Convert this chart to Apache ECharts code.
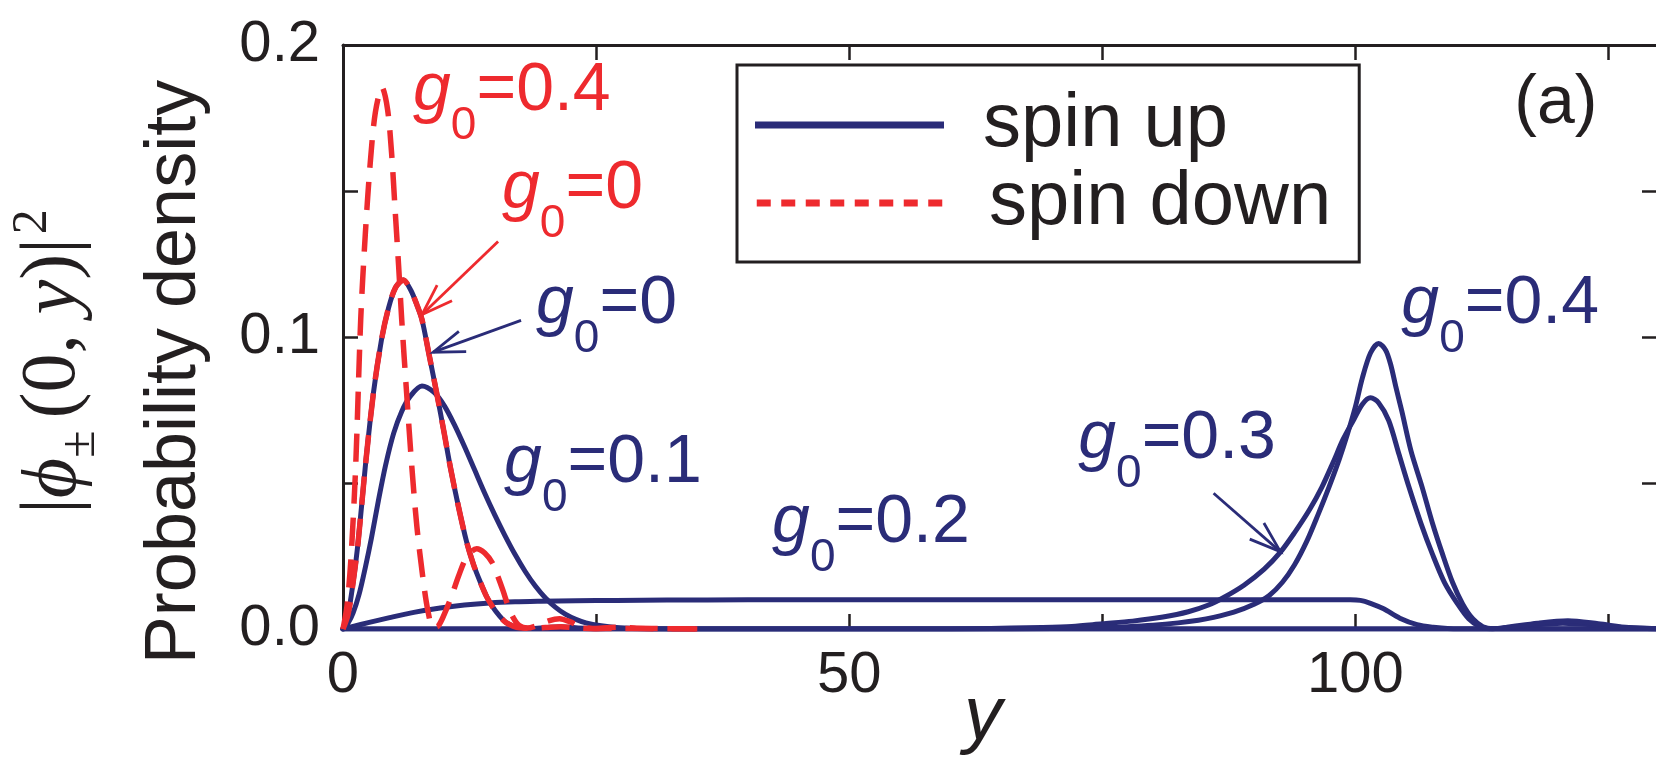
<!DOCTYPE html>
<html>
<head>
<meta charset="utf-8">
<script src="https://cdn.jsdelivr.net/npm/echarts/dist/echarts.min.js"></script>
<style>
html,body{margin:0;padding:0;background:#fff;}
#chart{width:1656px;height:764px;}
</style>
</head>
<body>
<div id="chart"></div>
<script>
// ---------------- data ----------------
const xTickLabels = [0, 50, 100];
const yTickLabels = ['0.0', '0.1', '0.2'];
const legendNames = ['spin up', 'spin down'];

// g0 = 0 : spin up and spin down coincide
const densityG0 = [[0,0],[0.5,0.005],[1.0,0.016],[1.5,0.030],[2.2,0.0555],[3.0,0.0807],[3.8,0.099],[4.5,0.110],[5.2,0.117],[5.96,0.1195],[6.7,0.116],[7.3,0.111],[7.8,0.106],[8.5,0.094],[9.26,0.0807],[10.0,0.067],[10.6,0.0555],[11.4,0.042],[12.2,0.030],[12.9,0.022],[13.5,0.0166],[14.2,0.011],[14.8,0.0075],[15.5,0.0043],[16.1,0.0022],[16.8,0.0010],[17.5,0.0004],[18.5,0.0002],[20,0.0005],[21.5,0.0008],[23,0.0004],[25,0.0001],[27,0.0002],[30,0.0001],[35,0]];
const upBaselineEnd = [[130,0]];

// spin up, g0 = 0.1
const upG01 = [[0,0],[0.5,0.002],[1.0,0.0055],[1.6,0.012],[2.2,0.021],[2.8,0.031],[3.5,0.044],[4.2,0.056],[5.0,0.067],[5.8,0.0745],[6.6,0.0795],[7.8,0.0832],[9.0,0.081],[10.0,0.0765],[11.0,0.070],[12.0,0.0625],[13.0,0.0545],[14.0,0.0465],[15.0,0.039],[16.0,0.032],[17.0,0.0255],[18.0,0.0197],[19.0,0.0147],[20.0,0.0106],[21.0,0.0074],[22.0,0.0050],[23.0,0.0033],[24.0,0.0021],[25.5,0.0011],[27,0.0005],[29,0.0002],[32,0],[130,0]];

// spin up, g0 = 0.2
const upG02 = [[0,0],[1,0.0009],[2.5,0.0022],[4.6,0.0039],[7,0.0057],[9.6,0.0072],[12,0.0082],[14.5,0.0089],[17,0.0093],[19.5,0.0095],[23,0.0097],[27,0.0098],[32,0.0099],[40,0.0100],[60,0.0100],[80,0.0100],[99.5,0.0100],[100.5,0.0098],[101.5,0.0088],[102.8,0.0069],[104.4,0.0037],[106.1,0.0015],[107.7,0.0006],[109.4,0.0001],[111,0],[130,0]];

// spin up, g0 = 0.3
const upG03 = [[0,0],[58,0],[62,0.0001],[66,0.0003],[69,0.0005],[72,0.0009],[75,0.0018],[78,0.0027],[81,0.0041],[83.5,0.0059],[85.5,0.0082],[87,0.0108],[89,0.0150],[91,0.0205],[92.6,0.0263],[94,0.033],[95.5,0.041],[96.7,0.0486],[97.8,0.057],[98.8,0.065],[99.8,0.0714],[100.7,0.077],[101.5,0.0792],[102.3,0.0775],[103.3,0.0714],[104.3,0.060],[105.3,0.0486],[106.5,0.036],[107.6,0.0258],[108.8,0.016],[110.1,0.0086],[111.2,0.0035],[112.3,0.0008],[113.3,0.0001],[114.5,0.0003],[117,0.0012],[120.5,0.0020],[124,0.0013],[127,0.0004],[130,0.0001]];

// spin up, g0 = 0.4
const upG04 = [[0,0],[64,0],[68,0.0001],[72,0.0003],[75,0.0005],[77.5,0.0008],[80,0.0013],[82.5,0.0021],[84.5,0.0030],[86,0.0040],[88,0.0058],[90,0.0085],[91.5,0.0115],[92.8,0.016],[94,0.022],[95.2,0.030],[96.3,0.039],[97.4,0.0486],[98.4,0.058],[99.2,0.0665],[100,0.076],[100.7,0.086],[101.5,0.0945],[102.3,0.0978],[103,0.0955],[103.5,0.0905],[104,0.083],[104.6,0.0745],[105.5,0.061],[106.6,0.0486],[107.6,0.0365],[108.6,0.0258],[109.6,0.016],[110.6,0.0086],[111.6,0.0035],[112.6,0.0008],[113.6,0.0001],[115,0.0006],[118,0.0020],[121,0.0028],[124,0.0018],[127,0.0005],[130,0.0001]];

// spin down, g0 = 0.4
const downG04 = [[0,0],[0.4,0.008],[0.8,0.025],[1.25,0.0555],[1.75,0.106],[2.2,0.135],[2.7,0.160],[3.2,0.177],[3.85,0.1855],[4.4,0.178],[4.8,0.163],[5.14,0.144],[5.5,0.124],[5.8,0.106],[6.3,0.080],[6.8,0.0555],[7.3,0.035],[7.9,0.0173],[8.4,0.006],[8.9,0.0005],[9.4,0.001],[10.0,0.005],[10.7,0.011],[11.4,0.018],[12.2,0.0245],[13.2,0.0275],[14.0,0.026],[14.8,0.0224],[15.3,0.018],[15.8,0.0132],[16.3,0.008],[16.8,0.004],[17.4,0.0012],[18.2,0.0003],[19.2,0.0012],[20.3,0.0028],[21.4,0.0035],[22.4,0.0025],[23.5,0.0008],[25,0.0002],[27,0.0006],[29,0.0003],[32,0.0001],[35,0]];

// curve labels (g0 value, spin side, anchor in data units) and arrows
const curveLabels = [
  { g0: '0.4', side: 'down', x: 6.92,   y: 0.1841 },
  { g0: '0',   side: 'down', x: 15.71,  y: 0.1505 },
  { g0: '0',   side: 'up',   x: 19.07,  y: 0.1112 },
  { g0: '0.1', side: 'up',   x: 15.91,  y: 0.0567 },
  { g0: '0.2', side: 'up',   x: 42.39,  y: 0.0363 },
  { g0: '0.3', side: 'up',   x: 72.63,  y: 0.0649 },
  { g0: '0.4', side: 'up',   x: 104.55, y: 0.1112 }
];
const panelTag = { text: '(a)', x: 115.7, y: 0.1797 };
const arrows = [
  { side: 'down', from: [15.32, 0.1327], to: [7.81, 0.1077] },
  { side: 'up',   from: [17.59, 0.1057], to: [8.91, 0.0948] },
  { side: 'up',   from: [86.0, 0.0465],  to: [92.59, 0.0265] }
];

// ---------------- styling ----------------
const FONT = "'Liberation Sans', Arial, Helvetica, sans-serif";
const SERIF = "'Liberation Serif', 'DejaVu Serif', 'Times New Roman', serif";
const BLUE = '#2a2c78';
const RED = '#ee2a2e';
const INK = '#231f20';

const upSeriesData = [upG02, upG01, densityG0.concat(upBaselineEnd), upG03, upG04];
const downSeriesData = [downG04, densityG0];

function lineSeries(data, name, color, dashed) {
  return {
    type: 'line', name: name, data: data, xAxisIndex: 0, yAxisIndex: 0,
    showSymbol: false, symbol: 'none', smooth: 0.3, silent: true,
    color: color, itemStyle: { color: color },
    lineStyle: dashed
      ? { color: color, width: 5.5, type: [28, 14], cap: 'butt', join: 'round' }
      : { color: color, width: 5, cap: 'round', join: 'round' },
    emphasis: { disabled: true }, z: dashed ? 4 : 3
  };
}

const series = [];
upSeriesData.forEach(d => series.push(lineSeries(d, legendNames[0], BLUE, false)));
downSeriesData.forEach(d => series.push(lineSeries(d, legendNames[1], RED, true)));

const labelRich = {
  g: { fontFamily: FONT, fontStyle: 'italic', fontSize: 68, lineHeight: 80 },
  s: { fontFamily: FONT, fontSize: 46, lineHeight: 80, padding: [70, 0, 0, 0] },
  t: { fontFamily: FONT, fontSize: 68, lineHeight: 80 }
};

series.push({
  type: 'custom', name: 'labels', silent: true, z: 6, clip: false,
  data: curveLabels.map(l => [l.x, l.y]).concat([[panelTag.x, panelTag.y]]),
  renderItem: function (params, api) {
    const p = api.coord([api.value(0), api.value(1)]);
    const i = params.dataIndex;
    let text, fill;
    if (i < curveLabels.length) {
      const l = curveLabels[i];
      text = '{g|g}{s|0}{t|=' + l.g0 + '}';
      fill = l.side === 'up' ? BLUE : RED;
    } else {
      text = '{t|' + panelTag.text + '}';
      fill = INK;
    }
    return { type: 'text', x: p[0], y: p[1],
      style: { text: text, fill: fill, align: 'left', verticalAlign: 'middle', rich: labelRich } };
  }
});

series.push({
  type: 'custom', name: 'arrows', silent: true, z: 6, clip: false,
  data: arrows.map(a => [a.from[0], a.from[1], a.to[0], a.to[1]]),
  renderItem: function (params, api) {
    const s = api.coord([api.value(0), api.value(1)]);
    const t = api.coord([api.value(2), api.value(3)]);
    const color = arrows[params.dataIndex].side === 'up' ? BLUE : RED;
    const ang = Math.atan2(s[1] - t[1], s[0] - t[0]);
    const L = 33, h = 19 * Math.PI / 180;
    const b1 = [t[0] + L * Math.cos(ang + h), t[1] + L * Math.sin(ang + h)];
    const b2 = [t[0] + L * Math.cos(ang - h), t[1] + L * Math.sin(ang - h)];
    return { type: 'group', children: [
      { type: 'polyline', shape: { points: [s, t] }, style: { stroke: color, lineWidth: 2.8, fill: null } },
      { type: 'polyline', shape: { points: [b1, t, b2] }, style: { stroke: color, lineWidth: 2.8, fill: null } }
    ] };
  }
});

// dotted legend icon for spin down
let dotPath = 'path://';
for (let i = 0; i < 8; i++) { const x0 = i * 24.5; dotPath += 'M' + x0 + ' 0h14v7h-14Z'; }

const axisLineStyle = { color: INK, width: 3 };
const xFmt = v => (xTickLabels.indexOf(v) >= 0 ? String(v) : '');
const yFmt = v => { const k = Math.round(v * 10); return Math.abs(v * 10 - k) < 1e-6 ? yTickLabels[k] : ''; };

const option = {
  animation: false,
  backgroundColor: '#fff',
  grid: { left: 343, right: -3, top: 45, bottom: 135, containLabel: false, outerBoundsMode: 'none' },
  legend: {
    orient: 'vertical', left: 737, top: 65,
    padding: [22, 28, 21, 18], itemGap: 2,
    itemWidth: 189, itemHeight: 7,
    borderColor: INK, borderWidth: 3, backgroundColor: '#fff',
    selectedMode: false,
    textStyle: { fontFamily: FONT, fontSize: 76, color: INK, padding: [0, 0, 0, 34] },
    data: [
      { name: legendNames[0], icon: 'rect' },
      { name: legendNames[1], icon: dotPath, textStyle: { padding: [0, 0, 0, 40] } }
    ]
  },
  xAxis: [
    {
      type: 'value', position: 'bottom', min: 0, max: 130, interval: 25,
      name: 'y', nameLocation: 'middle', nameGap: 51, nameMoveOverlap: false,
      nameTextStyle: { fontFamily: FONT, fontStyle: 'italic', fontSize: 76, color: INK, lineHeight: 76, padding: [0, 36, 0, 0] },
      axisLine: { show: true, onZero: false, lineStyle: axisLineStyle },
      axisTick: { show: true, inside: true, length: 15, lineStyle: { color: INK, width: 2.5 } },
      axisLabel: { show: true, formatter: xFmt, fontFamily: FONT, fontSize: 58, color: INK, margin: 18 },
      splitLine: { show: false }
    },
    {
      type: 'value', position: 'top', min: 0, max: 130, interval: 25,
      axisLine: { show: true, onZero: false, lineStyle: axisLineStyle },
      axisTick: { show: true, inside: true, length: 15, lineStyle: { color: INK, width: 2.5 } },
      axisLabel: { show: false }, splitLine: { show: false }
    }
  ],
  yAxis: [
    {
      type: 'value', position: 'left', min: 0, max: 0.2, interval: 0.05,
      name: '{m0||}{mi|ϕ}{sub|±}{m|(0, }{mi|y}{m|)|}{sup|2}\n{p|Probability density}',
      nameLocation: 'middle', nameRotate: 90, nameGap: 128, nameMoveOverlap: false,
      nameTextStyle: {
        color: INK, padding: [0, 70, 0, 0],
        rich: {
          m0: { fontFamily: SERIF, fontSize: 78, lineHeight: 162, padding: [0, 0, 0, 21] },
          m: { fontFamily: SERIF, fontSize: 78, lineHeight: 162 },
          mi: { fontFamily: SERIF, fontStyle: 'italic', fontSize: 78, lineHeight: 162 },
          sub: { fontFamily: SERIF, fontSize: 50, lineHeight: 162, padding: [54, 12, 0, 0] },
          sup: { fontFamily: SERIF, fontSize: 50, lineHeight: 162, padding: [0, 0, 42, 4] },
          p: { fontFamily: FONT, fontSize: 72, lineHeight: 80 }
        }
      },
      axisLine: { show: true, onZero: false, lineStyle: axisLineStyle },
      axisTick: { show: true, inside: true, length: 15, lineStyle: { color: INK, width: 2.5 } },
      axisLabel: { show: true, formatter: yFmt, fontFamily: FONT, fontSize: 58, color: INK, margin: 23, padding: [0, 0, 8, 0] },
      splitLine: { show: false }
    },
    {
      type: 'value', position: 'right', min: 0, max: 0.2, interval: 0.05,
      axisLine: { show: true, onZero: false, lineStyle: axisLineStyle },
      axisTick: { show: true, inside: true, length: 17, lineStyle: { color: INK, width: 2.5 } },
      axisLabel: { show: false }, splitLine: { show: false }
    }
  ],
  series: series
};

const chart = echarts.init(document.getElementById('chart'), null, { renderer: 'canvas' });
chart.setOption(option);
</script>
</body>
</html>
